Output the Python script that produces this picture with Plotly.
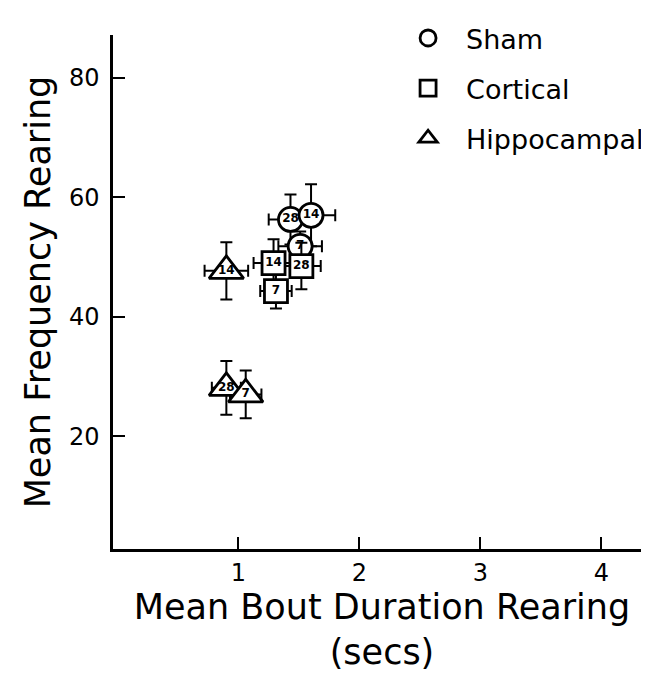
import plotly.graph_objects as go

# Data (x = mean bout duration, y = mean frequency)
sham_days = ["28", "14", "7"]
sham_x = [1.43, 1.60, 1.51]
sham_y = [56.3, 57.0, 51.8]
sham_xerr = [0.18, 0.20, 0.18]
sham_yerr = [4.2, 5.2, 2.5]

cort_days = ["14", "28", "7"]
cort_x = [1.29, 1.52, 1.31]
cort_y = [49.0, 48.5, 44.3]
cort_xerr = [0.165, 0.16, 0.13]
cort_yerr = [4.0, 3.9, 2.9]

hipp_days = ["14", "28", "7"]
hipp_x = [0.90, 0.90, 1.06]
hipp_y = [47.7, 28.1, 27.0]
hipp_xerr = [0.18, 0.12, 0.13]
hipp_yerr = [4.8, 4.5, 4.0]

x_ticks = [1, 2, 3, 4]
y_ticks = [20, 40, 60, 80]

FONT = "DejaVu Sans"
BLACK = "black"

fig = go.Figure()

groups = [
    ("Sham", sham_x, sham_y, sham_xerr, sham_yerr, sham_days, "circle", 24),
    ("Cortical", cort_x, cort_y, cort_xerr, cort_yerr, cort_days, "square", 23),
    ("Hippocampal", hipp_x, hipp_y, hipp_xerr, hipp_yerr, hipp_days, "triangle-up", 30),
]

for name, xs, ys, xe, ye, lab, sym, size in groups:
    fig.add_trace(go.Scatter(
        x=xs, y=ys, mode="markers", name=name,
        legendgroup=name,
        marker=dict(symbol=sym, size=size, color="white",
                    line=dict(color=BLACK, width=2.8)),
        error_x=dict(type="data", array=xe, color=BLACK, thickness=2, width=6),
        error_y=dict(type="data", array=ye, color=BLACK, thickness=2, width=6),
    ))
    fig.add_trace(go.Scatter(
        x=xs, y=ys, mode="text", text=lab, showlegend=False,
        textposition="middle center",
        textfont=dict(family=FONT, size=12, color=BLACK, weight="bold"),
        hoverinfo="skip",
    ))

fig.update_layout(
    width=649, height=673,
    margin=dict(l=105, r=6, t=13, b=132),
    paper_bgcolor="white", plot_bgcolor="white",
    font=dict(family=FONT, color=BLACK),
    showlegend=True,
    legend=dict(
        x=0.515, y=1.041, xanchor="left", yanchor="top",
        font=dict(family=FONT, size=27, color=BLACK),
        tracegroupgap=12, itemsizing="trace", itemwidth=66,
        bgcolor="rgba(0,0,0,0)",
    ),
    xaxis=dict(
        range=[-0.037, 4.41], tickvals=x_ticks, ticktext=[str(v) for v in x_ticks],
        ticks="inside", ticklen=12, tickwidth=2, tickcolor=BLACK,
        showline=True, linecolor=BLACK, linewidth=2.5, showgrid=False, zeroline=False,
        tickfont=dict(family=FONT, size=24, color=BLACK),
        ticklabelstandoff=0,
        title=dict(text="Mean Bout Duration Rearing<br>(secs)",
                   font=dict(family=FONT, size=35, color=BLACK), standoff=2),
    ),
    yaxis=dict(
        range=[1.1, 87.2], tickvals=y_ticks, ticktext=[str(v) for v in y_ticks],
        ticks="inside", ticklen=12, tickwidth=2, tickcolor=BLACK,
        showline=True, linecolor=BLACK, linewidth=2.5, showgrid=False, zeroline=False,
        tickfont=dict(family=FONT, size=24, color=BLACK),
        ticklabelstandoff=6,
        title=dict(text="Mean Frequency Rearing",
                   font=dict(family=FONT, size=35, color=BLACK), standoff=8),
    ),
)

fig.write_html("out.html")
